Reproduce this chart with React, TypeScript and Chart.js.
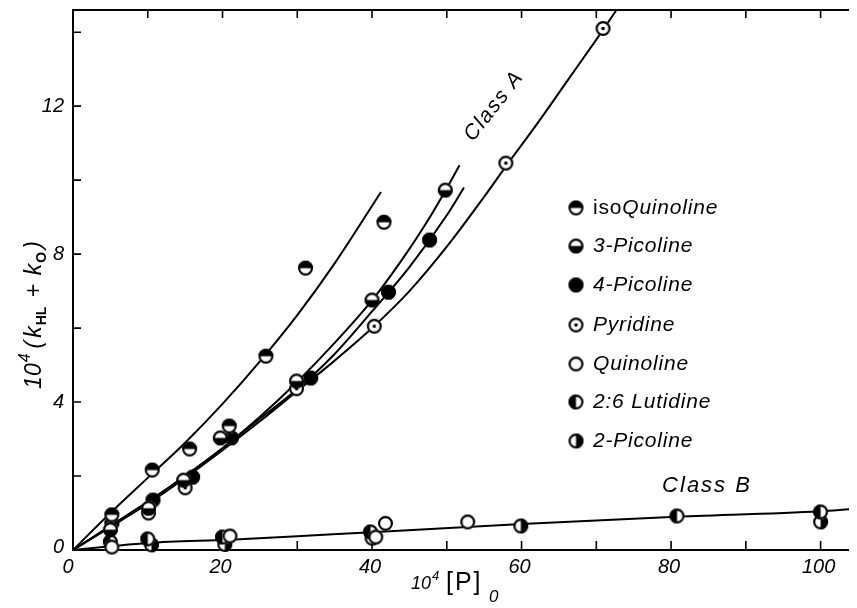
import React, { useEffect, useRef } from 'react';
import { Chart, registerables } from 'chart.js';
Chart.register(...registerables);

// ---- axis limits / ticks ----
const X_MIN = 0;
const X_MAX = 103.8;
const Y_MIN = 0;
const Y_MAX = 14.6;
const xTickLabels = [0, 20, 40, 60, 80, 100];
const xMinorTicks = [10, 20, 30, 40, 50, 60, 70, 80, 90, 100];
const yTickLabels = [0, 4, 8, 12];
const yMinorTicks = [2, 4, 6, 8, 10, 12, 14];

// ---- measured points ----
const isoQuinolineX = [5.2, 10.6, 15.6, 20.9, 25.8, 31.1, 41.6];
const isoQuinolineY = [0.95, 2.16, 2.73, 3.35, 5.24, 7.62, 8.86];

const picoline3X = [5.0, 10.1, 14.8, 19.7, 29.9, 40.0, 49.8];
const picoline3Y = [0.55, 1.13, 1.89, 3.03, 4.57, 6.76, 9.73];

const picoline4X = [5.2, 10.7, 16.0, 21.2, 31.8, 42.2, 47.7];
const picoline4Y = [0.72, 1.35, 1.97, 3.03, 4.65, 6.97, 8.38];

const pyridineX = [10.1, 15.0, 29.9, 40.3, 57.9, 70.9];
const pyridineY = [1.0, 1.68, 4.36, 6.05, 10.46, 14.1];

const quinolineX = [5.2, 21.0, 40.5, 41.8, 52.8];
const quinolineY = [0.08, 0.38, 0.35, 0.72, 0.76];

const lutidine26X = [5.0, 10.0, 20.0, 39.8, 80.8, 100.0];
const lutidine26Y = [0.22, 0.3, 0.35, 0.49, 0.92, 1.03];

const picoline2X = [10.5, 20.3, 40.0, 59.9, 100.0];
const picoline2Y = [0.14, 0.15, 0.32, 0.65, 0.76];

// ---- drawn curves ----
const curveIsoX = [0, 5, 10, 15, 20, 25, 30, 35, 41.2];
const curveIsoY = [0, 1.0, 1.95, 2.9, 3.95, 5.1, 6.35, 7.75, 9.68];

const curvePic3X = [0, 5, 10, 15, 20, 25, 30, 35, 40, 42.5, 45, 47.5, 50, 51.7];
const curvePic3Y = [0, 0.65, 1.3, 2.0, 2.75, 3.6, 4.55, 5.6, 6.75, 7.42, 8.14, 8.92, 9.78, 10.4];

const curvePic4X = [0, 5, 10, 15, 20, 25, 30, 35, 40, 45, 50, 52.3];
const curvePic4Y = [0, 0.65, 1.3, 2.0, 2.75, 3.55, 4.35, 5.3, 6.45, 7.65, 9.05, 9.8];

const curvePyrX = [0, 5, 10, 15, 20, 25, 30, 35, 40, 45, 50, 55, 58, 62, 66, 70, 72.7];
const curvePyrY = [0, 0.62, 1.25, 1.95, 2.7, 3.48, 4.3, 5.12, 6.0, 7.0, 8.2, 9.55, 10.4, 11.5, 12.65, 13.8, 14.6];

const curveBX = [0, 5, 10, 21, 30, 38, 60, 80, 100, 103.8];
const curveBY = [0, 0.1, 0.19, 0.28, 0.37, 0.46, 0.7, 0.89, 1.05, 1.1];

const legendNames = ['isoQuinoline', '3-Picoline', '4-Picoline', 'Pyridine', 'Quinoline', '2:6 Lutidine', '2-Picoline'];
const legendKinds = ['top', 'bottom', 'full', 'dot', 'open', 'left', 'right'];

const FONT = '"Liberation Sans", Arial, sans-serif';

function pts(xs: number[], ys: number[]) {
  return xs.map((x, i) => ({ x, y: ys[i] }));
}

function makeSymbol(kind: string, r = 7.5): HTMLCanvasElement {
  const size = Math.ceil(r * 2 + 4);
  const c = document.createElement('canvas');
  c.width = size;
  c.height = size;
  const ctx = c.getContext('2d')!;
  const cx = size / 2, cy = size / 2;
  ctx.fillStyle = '#fff';
  ctx.beginPath(); ctx.arc(cx, cy, r, 0, Math.PI * 2); ctx.fill();
  ctx.fillStyle = '#000';
  const half = (a0: number, a1: number) => {
    ctx.beginPath(); ctx.moveTo(cx, cy); ctx.arc(cx, cy, r, a0, a1); ctx.closePath(); ctx.fill();
  };
  if (kind === 'top') half(Math.PI, 2 * Math.PI);
  if (kind === 'bottom') half(0, Math.PI);
  if (kind === 'full') { ctx.beginPath(); ctx.arc(cx, cy, r, 0, Math.PI * 2); ctx.fill(); }
  if (kind === 'left') half(Math.PI / 2, (3 * Math.PI) / 2);
  if (kind === 'right') half(-Math.PI / 2, Math.PI / 2);
  ctx.lineWidth = 2.2;
  ctx.strokeStyle = '#000';
  ctx.beginPath(); ctx.arc(cx, cy, r - 1.1, 0, Math.PI * 2); ctx.stroke();
  if (kind === 'dot') { ctx.beginPath(); ctx.arc(cx, cy, 1.8, 0, Math.PI * 2); ctx.fill(); }
  return c;
}

export default function App() {
  const ref = useRef<HTMLCanvasElement | null>(null);
  useEffect(() => {
    const canvas = ref.current!;
    const sym: Record<string, HTMLCanvasElement> = {};
    legendKinds.forEach(k => { sym[k] = makeSymbol(k); });

    const pointSet = (xs: number[], ys: number[], kind: string) => ({
      data: pts(xs, ys),
      showLine: false,
      pointStyle: sym[kind],
      pointRadius: 7,
      order: 1,
      clip: false as any,
    });
    const curveSet = (xs: number[], ys: number[]) => ({
      data: pts(xs, ys),
      showLine: true,
      borderColor: '#000',
      borderWidth: 2,
      pointRadius: 0,
      cubicInterpolationMode: 'monotone' as const,
      order: 2,
      clip: false as any,
    });

    const axesPlugin = {
      id: 'paperAxes',
      beforeDatasetsDraw(chart: any) {
        const { ctx, chartArea: a, scales } = chart;
        const xs = scales.x, ys = scales.y;
        ctx.save();
        ctx.strokeStyle = '#000';
        ctx.lineWidth = 2;
        ctx.beginPath();
        ctx.moveTo(a.left, a.top); ctx.lineTo(a.left, a.bottom);
        ctx.moveTo(a.left - 1, a.bottom); ctx.lineTo(a.right, a.bottom);
        ctx.moveTo(a.left - 1, a.top); ctx.lineTo(a.right, a.top);
        ctx.stroke();
        ctx.lineWidth = 1.6;
        ctx.beginPath();
        xMinorTicks.forEach(v => {
          const p = xs.getPixelForValue(v);
          ctx.moveTo(p, a.bottom); ctx.lineTo(p, a.bottom - 9);
          ctx.moveTo(p, a.top); ctx.lineTo(p, a.top + 8);
        });
        yMinorTicks.forEach(v => {
          const p = ys.getPixelForValue(v);
          ctx.moveTo(a.left, p); ctx.lineTo(a.left + 8, p);
        });
        ctx.stroke();
        ctx.restore();
      },
      afterDraw(chart: any) {
        const { ctx, chartArea: a, scales } = chart;
        const xs = scales.x, ys = scales.y;
        ctx.save();
        ctx.fillStyle = '#000';
        // tick labels
        ctx.font = `italic 20px ${FONT}`;
        ctx.textBaseline = 'middle';
        ctx.textAlign = 'right';
        yTickLabels.forEach(v => {
          ctx.fillText(String(v), a.left - 9, ys.getPixelForValue(v) - (v === 0 ? 3 : 0));
        });
        ctx.textAlign = 'center';
        xTickLabels.forEach(v => {
          ctx.fillText(String(v), xs.getPixelForValue(v) - (v === 0 ? 5 : 2), a.bottom + 17);
        });

        // y title
        ctx.save();
        ctx.translate(41, 315);
        ctx.rotate(-Math.PI / 2);
        ctx.textAlign = 'left';
        ctx.textBaseline = 'alphabetic';
        const yParts = [
          { t: '10', f: `italic 23px ${FONT}`, dy: 0, g: 1 },
          { t: '4', f: `italic 16px ${FONT}`, dy: -11, g: 5 },
          { t: '(', f: `italic 23px ${FONT}`, dy: 0, g: 3 },
          { t: 'k', f: `italic 23px ${FONT}`, dy: 0, g: 1 },
          { t: 'HL', f: `bold 14px ${FONT}`, dy: 5, g: 9 },
          { t: '+', f: `italic 23px ${FONT}`, dy: 0, g: 9 },
          { t: 'k', f: `italic 23px ${FONT}`, dy: 0, g: 1 },
          { t: 'O', f: `bold 14px ${FONT}`, dy: 5, g: 3 },
          { t: ')', f: `italic 23px ${FONT}`, dy: 0, g: 0 },
        ];
        let total = 0;
        yParts.forEach(p => { ctx.font = p.f; total += ctx.measureText(p.t).width + p.g; });
        let cx = -total / 2;
        yParts.forEach(p => {
          ctx.font = p.f;
          ctx.fillText(p.t, cx, p.dy);
          cx += ctx.measureText(p.t).width + p.g;
        });
        ctx.restore();

        // x title
        ctx.textAlign = 'left';
        ctx.textBaseline = 'alphabetic';
        (ctx as any).letterSpacing = '2px';
        ctx.font = `25px ${FONT}`;
        ctx.fillText('[P]', 446, 590);
        (ctx as any).letterSpacing = '0px';
        ctx.font = `italic 18px ${FONT}`;
        ctx.fillText('10', 411, 589);
        ctx.font = `italic 13px ${FONT}`;
        ctx.fillText('4', 432, 580);
        ctx.font = `italic 17px ${FONT}`;
        ctx.fillText('0', 489, 602);

        // annotations
        (ctx as any).letterSpacing = '1.5px';
        ctx.save();
        ctx.font = `italic 21px ${FONT}`;
        ctx.textAlign = 'center';
        ctx.textBaseline = 'middle';
        ctx.translate(494, 106);
        ctx.rotate((-52 * Math.PI) / 180);
        ctx.fillText('Class A', 0, 0);
        ctx.restore();
        (ctx as any).letterSpacing = '2px';
        ctx.font = `italic 22px ${FONT}`;
        ctx.textAlign = 'center';
        ctx.textBaseline = 'middle';
        ctx.fillText('Class B', 707, 486);

        // legend
        (ctx as any).letterSpacing = '0.8px';
        const rowY = [208, 246, 285, 325, 364, 402, 441];
        ctx.textAlign = 'left';
        ctx.textBaseline = 'middle';
        legendNames.forEach((name, i) => {
          const img = sym[legendKinds[i]];
          ctx.drawImage(img, 576 - img.width / 2, rowY[i] - img.height / 2);
          let tx = 593;
          if (name.startsWith('iso')) {
            ctx.font = `21px ${FONT}`;
            ctx.fillText('iso', tx, rowY[i]);
            tx += ctx.measureText('iso').width;
            ctx.font = `italic 21px ${FONT}`;
            ctx.fillText(name.slice(3), tx, rowY[i]);
          } else {
            ctx.font = `italic 21px ${FONT}`;
            ctx.fillText(name, tx, rowY[i]);
          }
        });
        (ctx as any).letterSpacing = '0px';
        ctx.restore();
      },
    };

    const chart = new Chart(canvas, {
      type: 'scatter',
      data: {
        datasets: [
          pointSet(isoQuinolineX, isoQuinolineY, 'top'),
          pointSet(picoline3X, picoline3Y, 'bottom'),
          pointSet(picoline4X, picoline4Y, 'full'),
          pointSet(pyridineX, pyridineY, 'dot'),
          pointSet(quinolineX, quinolineY, 'open'),
          pointSet(lutidine26X, lutidine26Y, 'left'),
          pointSet(picoline2X, picoline2Y, 'right'),
          curveSet(curveIsoX, curveIsoY),
          curveSet(curvePic3X, curvePic3Y),
          curveSet(curvePic4X, curvePic4Y),
          curveSet(curvePyrX, curvePyrY),
          curveSet(curveBX, curveBY),
        ] as any,
      },
      options: {
        responsive: false,
        animation: false,
        layout: { padding: { left: 73, top: 10, bottom: 58, right: 0 } },
        plugins: { legend: { display: false }, tooltip: { enabled: false } },
        scales: {
          x: { type: 'linear', min: X_MIN, max: X_MAX, display: false },
          y: { type: 'linear', min: Y_MIN, max: Y_MAX, display: false },
        },
      },
      plugins: [axesPlugin],
    });
    return () => chart.destroy();
  }, []);

  return (
    <div style={{ position: 'fixed', left: 0, top: 0, width: 857, height: 608, background: '#fff' }}>
      <canvas ref={ref} width={857} height={608} style={{ display: 'block' }} />
    </div>
  );
}
